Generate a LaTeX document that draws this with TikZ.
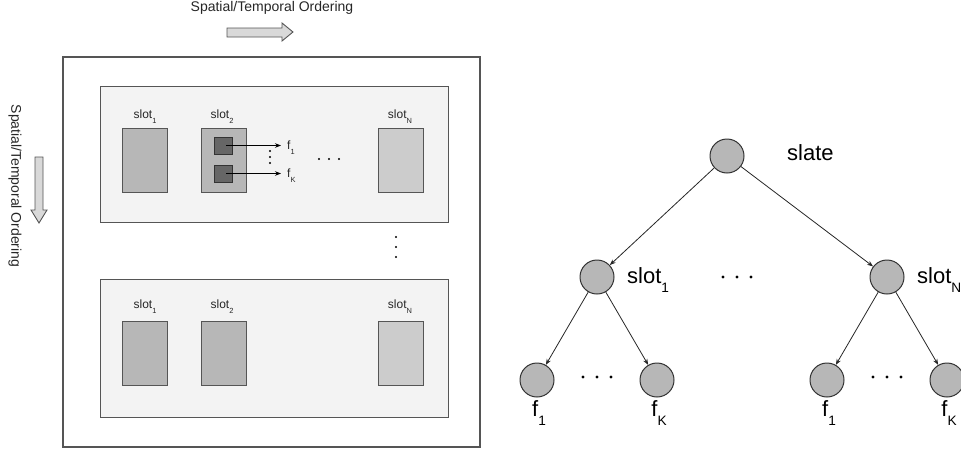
\documentclass[tikz,border=0pt]{standalone}
\usepackage{fontspec}
\setmainfont{Liberation Sans}
\usetikzlibrary{arrows.meta}
\definecolor{panelfill}{HTML}{F3F3F3}
\definecolor{slotfill}{HTML}{B7B7B7}
\definecolor{slotNfill}{HTML}{CCCCCC}
\definecolor{featfill}{HTML}{666666}
\definecolor{edge}{HTML}{555555}
\definecolor{bigarrow}{HTML}{D9D9D9}
\newcommand\lowsub[1]{\raisebox{-0.75ex}{\scalebox{0.62}{#1}}}
\begin{document}
\begin{tikzpicture}[x=1pt,y=-1pt,
  frame/.style={draw=edge, line width=1.1pt, fill=white, inner sep=0pt},
  panel/.style={draw=edge, line width=1pt, fill=panelfill, inner sep=0pt, minimum width=348pt},
  slotbox/.style={draw=edge, line width=1pt, fill=slotfill, inner sep=0pt, minimum width=45pt, minimum height=64pt},
  slotNbox/.style={slotbox, fill=slotNfill},
  featbox/.style={draw=black!80, line width=1pt, fill=featfill, inner sep=0pt, minimum width=18pt, minimum height=17pt},
  small/.style={font=\fontsize{12}{14}\selectfont, inner sep=0pt, text=black!85},
  big/.style={font=\fontsize{22}{26}\selectfont, inner sep=0pt},
  title/.style={font=\fontsize{14}{16}\selectfont, inner sep=0pt, text=black!85},
  tnode/.style={circle, draw=black!80, line width=1pt, fill=slotfill, minimum size=34pt, inner sep=0pt},
  tedge/.style={-{Stealth[length=6pt,width=4.5pt]}, line width=0.8pt, draw=black!85},
  fedge/.style={-{Stealth[length=6pt,width=4.5pt]}, line width=0.8pt, draw=black},
  dot/.style={fill=black}
]
\useasboundingbox (0,0) rectangle (961,453);

% ordering labels and arrows
\node[title] (htitle) at (272,8) {Spatial/Temporal Ordering};
\draw[draw=edge, line width=0.9pt, fill=bigarrow]
  (227,28) -- (282,28) -- (282,23) -- (293,32) -- (282,41) -- (282,37) -- (227,37) -- cycle;
\node[title, rotate=-90] (vtitle) at (15,186) {Spatial/Temporal Ordering};
\draw[draw=edge, line width=0.9pt, fill=bigarrow]
  (35,157) -- (35,210) -- (31,210) -- (39,223) -- (47,210) -- (43,210) -- (43,157) -- cycle;

% outer frame and panels
\node[frame, minimum width=417pt, minimum height=390pt] (outer) at (271.5,252) {};
\node[panel, minimum height=136pt] (p1) at (274,154) {};
\node[panel, minimum height=138pt] (p2) at (274,348) {};

% panel 1
\node[slotbox] (a1) at (144.5,160) {};
\node[slotbox] (a2) at (223.5,160) {};
\node[slotNbox] (aN) at (401,160) {};
\node[small] (la1) at (145,117) {slot\lowsub{1}};
\node[small] (la2) at (222,117) {slot\lowsub{2}};
\node[small] (laN) at (400,117) {slot\lowsub{N}};
\node[featbox] (q1) at (223,145.5) {};
\node[featbox] (qK) at (223,173.5) {};
\node[small, anchor=west] (f1) at (287,148) {f\lowsub{1}};
\node[small, anchor=west] (fK) at (287,176) {f\lowsub{K}};
\draw[fedge] ([xshift=3pt]q1.center) -- ([xshift=-6pt]q1.center -| f1.west);
\draw[fedge] ([xshift=3pt]qK.center) -- ([xshift=-6pt]qK.center -| fK.west);
\foreach \yy in {151,157,163} \fill[dot] (270,\yy) circle (1.1pt);
\foreach \xx in {319,329,339} \fill[dot] (\xx,159) circle (1.2pt);

% dots between panels
\foreach \yy in {237,247,257} \fill[dot] (396,\yy) circle (1.2pt);

% panel 2
\node[slotbox] (b1) at (144.5,353) {};
\node[slotbox] (b2) at (223.5,353) {};
\node[slotNbox] (bN) at (401,353) {};
\node[small] (lb1) at (145,307) {slot\lowsub{1}};
\node[small] (lb2) at (222,307) {slot\lowsub{2}};
\node[small] (lbN) at (400,307) {slot\lowsub{N}};

% tree
\node[tnode] (slate) at (727,156) {};
\node[tnode] (s1) at (597,277) {};
\node[tnode] (sN) at (887,277) {};
\node[tnode] (l1) at (537,380) {};
\node[tnode] (l2) at (657,380) {};
\node[tnode] (l3) at (827,380) {};
\node[tnode] (l4) at (947,380) {};
\node[big, anchor=west] (tslate) at (787,153) {slate};
\node[big, anchor=west] (ts1) at (627,280) {slot\lowsub{1}};
\node[big, anchor=west] (tsN) at (917,280) {slot\lowsub{N}};
\node[big] (tl1) at (539,413) {f\lowsub{1}};
\node[big] (tl2) at (659,413) {f\lowsub{K}};
\node[big] (tl3) at (829,413) {f\lowsub{1}};
\node[big] (tl4) at (949,413) {f\lowsub{K}};
\draw[tedge] (slate) -- (s1);
\draw[tedge] (slate) -- (sN);
\draw[tedge] (s1) -- (l1);
\draw[tedge] (s1) -- (l2);
\draw[tedge] (sN) -- (l3);
\draw[tedge] (sN) -- (l4);
\foreach \xx in {723,737,751} \fill[dot] (\xx,277) circle (1.6pt);
\foreach \xx in {583,597,611} \fill[dot] (\xx,377) circle (1.6pt);
\foreach \xx in {873,887,901} \fill[dot] (\xx,377) circle (1.6pt);
\end{tikzpicture}
\end{document}
